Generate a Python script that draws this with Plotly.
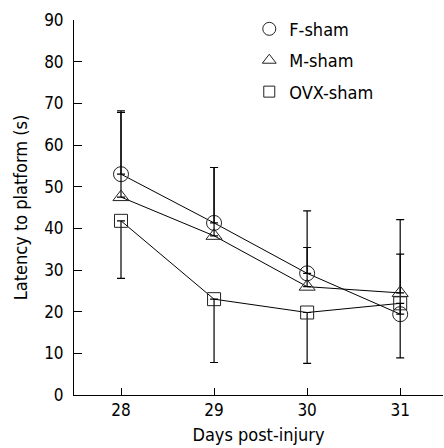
import plotly.graph_objects as go

days = [28, 29, 30, 31]
f_sham = [53.0, 41.3, 29.2, 19.4]
m_sham = [47.5, 38.2, 26.0, 24.5]
ovx_sham = [41.8, 23.0, 19.8, 22.0]
f_sham_err_up = [15.2, 13.3, 15.0, 22.7]
m_sham_err_up = [20.3, 16.4, 9.4, 9.3]
ovx_sham_err_down = [13.8, 15.2, 12.2, 13.1]
zeros = [0, 0, 0, 0]

names = ["F-sham", "M-sham", "OVX-sham"]
symbols = ["circle-open", "triangle-up-open", "square-open"]

FONT = "DejaVu Sans Condensed, Noto Sans, sans-serif"
fig = go.Figure()

series = [
    (f_sham, f_sham_err_up, zeros),
    (m_sham, m_sham_err_up, zeros),
    (ovx_sham, zeros, ovx_sham_err_down),
]
sizes = [15, 14, 13]
for (vals, up, dn), sym, sz, nm in zip(series, symbols, sizes, names):
    fig.add_trace(go.Scatter(
        x=days, y=vals, mode="lines+markers", name=nm, showlegend=False,
        line=dict(color="black", width=1),
        marker=dict(symbol=sym, size=sz, color="#222", line=dict(width=1)),
        error_y=dict(type="data", symmetric=False, array=up, arrayminus=dn,
                     color="black", thickness=1.2, width=4),
    ))

for i, (sym, sz, nm) in enumerate(zip(symbols, sizes, names)):
    fig.add_trace(go.Scatter(
        x=[None], y=[None], mode="markers", name=nm, legendgroup=nm,
        marker=dict(symbol=sym, size=sz - 2, color="#222", line=dict(width=1)),
    ))

fig.update_layout(
    width=444, height=448,
    margin=dict(l=74, r=1, t=20, b=53),
    paper_bgcolor="white", plot_bgcolor="white",
    font=dict(family=FONT, size=17, color="black"),
    legend=dict(x=0.475, y=1.025, xanchor="left", yanchor="top",
                bgcolor="rgba(0,0,0,0)", font=dict(size=18),
                tracegroupgap=5, itemwidth=30),
    xaxis=dict(range=[27.495, 31.46], tickvals=days, ticktext=[str(d) for d in days],
               ticks="inside", ticklen=7, tickcolor="black", showline=True,
               linecolor="black", linewidth=1, showgrid=False, zeroline=False,
               title=dict(text="Days post-injury", standoff=8, font=dict(size=18))),
    yaxis=dict(range=[0, 90], tickvals=list(range(0, 91, 10)),
               ticks="inside", ticklen=8, tickcolor="black", showline=True,
               linecolor="black", linewidth=1, showgrid=False, zeroline=False,
               ticklabelstandoff=6,
               title=dict(text="Latency to platform (s)", standoff=11, font=dict(size=18))),
)

fig.write_html("out.html")
